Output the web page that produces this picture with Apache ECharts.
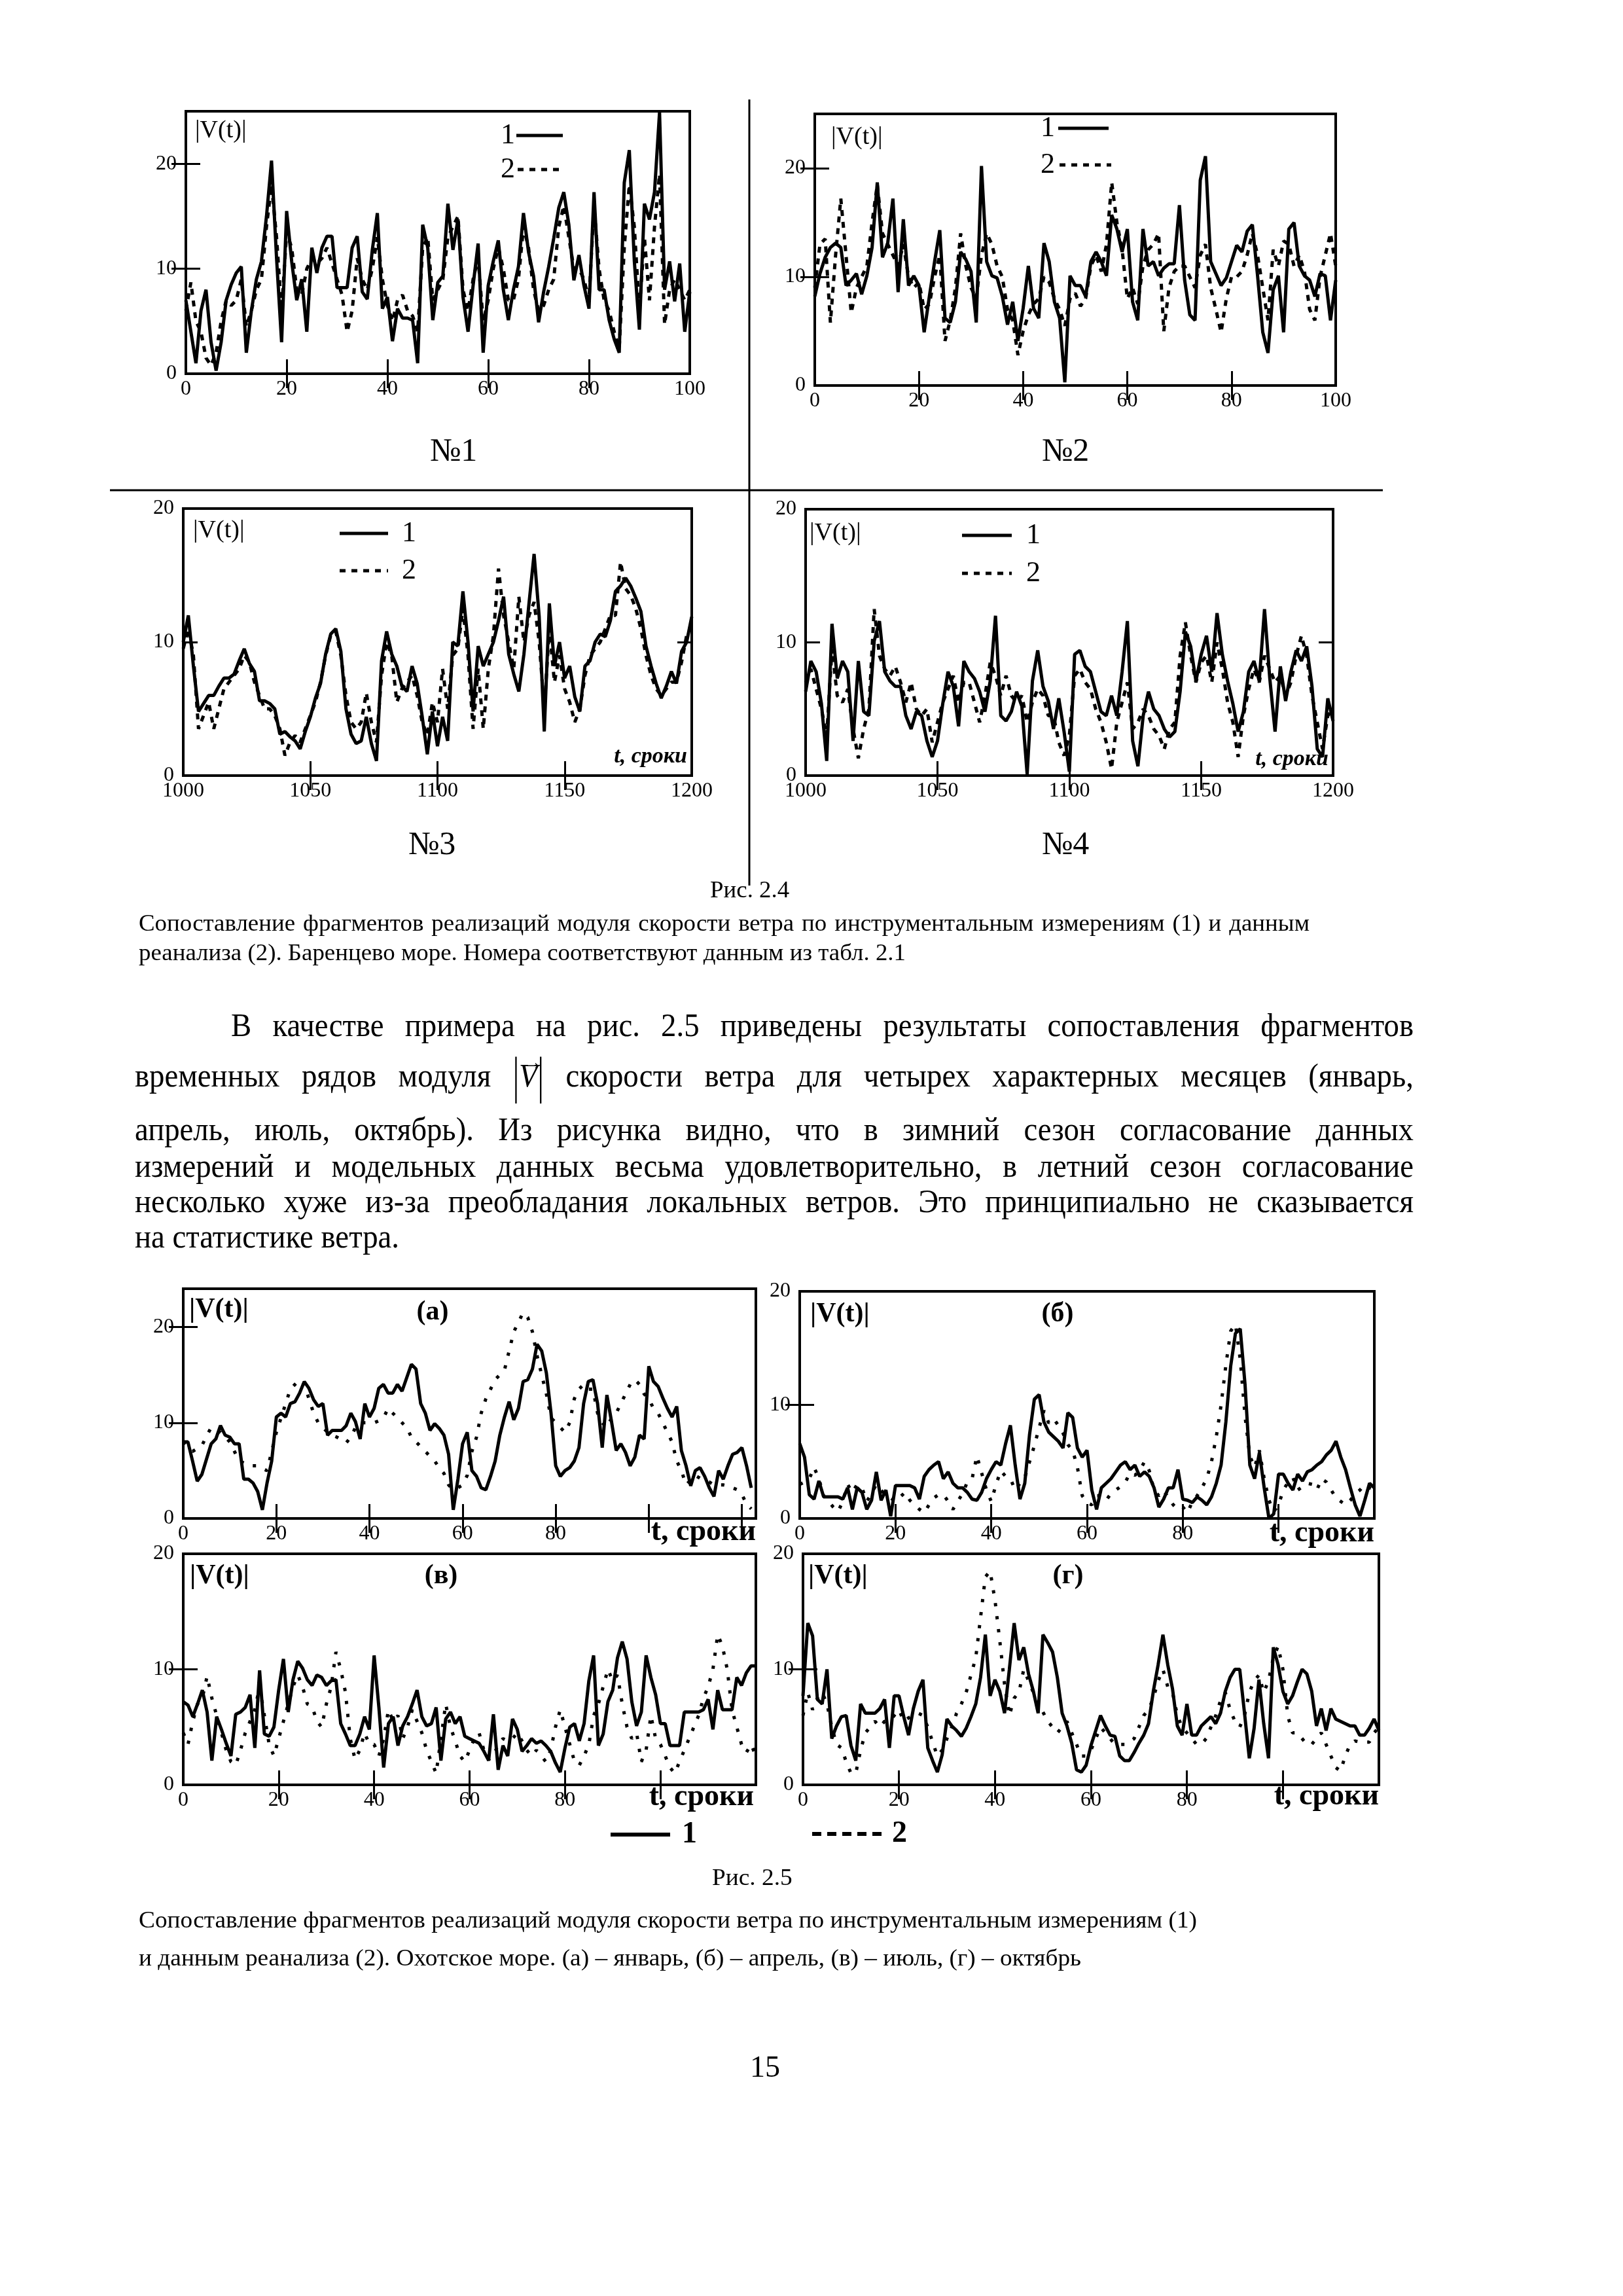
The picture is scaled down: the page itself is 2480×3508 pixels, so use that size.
<!DOCTYPE html>
<html><head><meta charset="utf-8">
<script src="https://cdn.jsdelivr.net/npm/echarts@6/dist/echarts.min.js"></script>
<style>
html,body{margin:0;padding:0;background:#fff;}
#page{position:relative;width:2480px;height:3508px;overflow:hidden;background:#fff;}
#chart{position:absolute;left:0;top:0;width:2480px;height:3508px;}
.t{position:absolute;font-family:"Liberation Serif","DejaVu Serif",serif;color:#000;}
</style></head>
<body><div id="page"><div id="chart"></div></div>
<script>
// ---------------- DATA ----------------
// Fig 2.4, №1 (t = 0..100, step 1)
const n1Solid = [7,4,1,6,8,3,0.3,3,7,8.5, 9.6,10.2,2,6,9,10.7,15,20.3,11,3, 15.5,10.7,7,9,4,12,9.6,12,13.1,13.1, 8.2,8.2,8.2,12,13.1,7.8,7.1,11.8,15.3,6.2, 7.3,3.1,6.2,5.3,5.3,5.1,1,14.2,12,5.1, 8.7,9.3,16.2,11.8,14.7,7.3,4,8.4,12.4,2, 8.4,10.7,12.7,8,5.1,8,10.2,15.3,11.6,9.3, 4.9,7.8,10.2,12.9,15.8,17.3,14.2,8.9,11.3,8.4, 6.2,17.3,8,8,5.1,3.3,2,18.2,21.3,10.7, 4.2,16.2,14.7,17.3,24.9,8,10.7,6.9,10.5,4, 7.8];
const n1Dash  = [6,8.7,5,4,1.5,0.8,2,5,7,6.5, 7,9,4.5,6,8,9,14,18,13,6, 13.5,12,8,7.5,10,11,10.5,11,12,10.5, 9,7.5,4,6,11,9,8,10,13,9, 6.5,5,7,7.5,6,5.5,4,12,13,7, 8,9,13,14,15,8,6,9,11,5, 7,10,12,10,7,7,9,14,12,8, 6,6.5,8,9,14,16,13,10,10,9, 7,16,10,7,6,4,2.4,12,18,14, 6,13,7,14,19,4.7,8,9,8,7, 8];
// №2 (t = 0..100, step 1)
const n2Solid = [8.2,10.3,11.8,12.7,13.1,12.7,9.2,9.7,10.3,8.4, 10.1,12.7,18.7,11.8,13.1,17.2,8.6,15.3,9.2,10.1, 9.2,4.9,8.2,11.4,14.3,6.2,5.8,7.7,12.3,11.6, 10.5,5.8,20.2,11.4,10.1,9.9,8.2,5.6,7.7,4.1, 7.1,11,7.1,6.2,13.1,11.4,7.7,6.2,0.3,10.1, 9.2,9.2,8.2,11.4,12.3,11.4,10.1,15.7,14.4,12.3, 14.4,7.7,6,14.4,11,11.4,10.1,10.8,11.2,11.2, 16.6,9.7,6.5,6,18.9,21.1,11.4,10.3,9.2,9.9, 11.4,12.9,12.3,14.2,14.8,10.1,4.9,3,8.8,10.1, 4.9,14.4,15,11,10.1,9.7,8.2,10.3,10.1,6, 9.7];
const n2Dash  = [9,13,13.5,5.8,12,17.2,12,6.7,9,10, 11,15,18.5,14,13,12,11,13,10,9, 9.5,7,7.5,10,12,4.1,6,9,14,11, 9,8,12,14,13,11,10,7,6,2.8, 5,6.5,7.5,8,10,9.5,8,7,5.5,8, 8.5,7.3,8,11,12,10.5,13,18.7,15,12.5, 8,9,7.5,11,12.5,13,14,5,9,10.5, 11,11,10,9,12,13,9,7,4.9,8, 10,10,10.5,12,14,12,9,6,12.5,11, 13.3,13,11,12,10.5,7,6,10,12,14, 11];
// №3 (t = 1000..1200, step 2)
const n3Solid = [10,12,8.2,4.8,5.4,6,6,6.7,7.3,7.3, 7.6,8.6,9.5,8.4,7.8,5.6,5.6,5.4,5,3.1, 3.3,2.9,2.6,2,3.3,4.4,5.8,6.9,9.1,10.6, 11,9.3,5,3.1,2.4,2.6,4.4,2.4,1.1,8.6, 10.8,9.1,8.2,6.7,6.3,8.2,6.9,4.4,1.6,4.8, 2.2,4.4,2.6,10,9.7,13.8,10,4.8,9.7,8.2, 9.1,10,11.6,13.4,9.1,7.6,6.3,9.1,12.9,16.6, 11.9,3.3,12.9,8.2,10,7.3,8.2,5.9,4.8,8.2, 8.6,10,10.6,10.4,11.6,13.8,14.2,14.8,14.2,13.3, 12.3,9.7,8.2,6.9,5.8,6.7,7.8,6.9,9.3,10, 11.9];
const n3Dash  = [9.5,11,9,3.5,4.5,5.5,3.5,5,6.5,7, 7.5,8,9,8.5,7,6,5,5,4.5,3.5, 1.5,2.5,3,2.5,3.5,4.5,5.5,7,9,10.5, 10.8,9,6,4,3.5,4,6.2,4,2.5,7.5, 10,9,5.5,6.5,7,7.5,6,4,3,5.5, 4,8,5,9,9.5,12.5,9,3.5,8,3.5, 8,10.5,15.5,12,10,8,13.4,10,12,13, 10,5,11,7,9,6.5,5.5,4,5,7.5, 9,9.5,10,11,12,12,16,14,13.5,12.5, 11,9,7.5,6.5,6,6.5,7,7,8.5,10.5, 11];
// №4 (t = 1000..1200, step 2)
const n4Solid = [6.3,8.6,7.8,5.4,1.1,11.4,7.3,8.6,7.8,2.6, 8.6,4.8,4.5,10.1,11.6,7.8,7.1,6.7,6.7,4.5, 3.5,4.8,4.5,2.6,1.4,2.6,5.4,7.8,6.7,3.7, 8.6,7.8,7.3,6.3,4.8,7.1,12,4.5,4.1,4.8, 6.3,5.2,0.1,7.1,9.4,6.7,5.6,3.5,5.8,3.3, 0.3,9.1,9.4,8.2,7.8,6.3,4.8,4.5,6,4.5, 7.8,11.6,2.6,0.7,4.5,6.3,5,4.5,3.5,2.9, 3.3,6.3,10.8,9.7,7.1,9.1,10.5,7.8,12.2,9.1, 7.1,5.4,3.3,4.8,7.8,8.6,7.1,12.5,7.3,3.3, 8.2,5.6,7.8,9.4,8.6,9.7,6.7,2,1.4,5.8, 4.1];
const n4Dash  = [7,8,6.5,5,3,9.5,6,5.5,6.5,3.5, 1.3,3.5,5,12.5,9,8,7.5,8.2,7,5.5, 7,5,4.5,5,2.5,4,5.5,6.5,7.5,5.5, 7,7,5.5,4,6,8.5,7.5,6,7.5,6, 5.5,6,4,5.5,6.5,6,4.5,4.5,2.5,1.5, 3,7.5,8,7,6.5,5,4,2.5,0.5,4, 5.5,7,3.5,4,5,4.5,3.5,3,2,3.5, 4,9,11.5,9,7,8.5,9,7,10,8, 5.5,4,1.4,4.5,6.5,8,7,9,8,7, 7.5,6,7,9,10.5,9,6,4,2,4.5, 5];
// Fig 2.5 (а) январь (t = 0..122)
const aSolid = [8,8,6,3.9,4.6,6.2,7.8,8.3,9.7,8.7, 8.5,7.8,7.8,4.1,4.1,3.7,2.8,0.9,3.7,6, 10.6,11,10.6,12,12.2,13.1,14.3,13.6,12.4,11.7, 12,8.7,9.2,9.2,9.2,9.7,11,10.1,8.3,12, 10.6,11.5,13.6,14,13.1,13.1,14,13.3,14.7,16.1, 15.6,12,11,9.2,9.9,9.4,8.7,6.7,0.9,4.1, 7.8,9,5,4.4,3.2,3,4.4,6,8.7,10.6, 12.2,10.3,11.5,14.3,14.5,15.6,18.2,17.5,15.2,11, 5.5,4.4,5,5.3,6,7.4,12,14.3,14.5,12, 7.4,12.9,10.1,7.1,7.8,6.9,5.5,6.4,8.7,8.3, 15.9,14.3,13.8,12.6,11.5,10.6,11.7,7.1,5.5,3.4, 5,5.3,4.4,3.2,2.3,5,4.1,5.5,6.7,6.9, 7.4,5.5,3.2];
const aDash  = [8,7.5,7,7.3,7.6,8.6,9.5,9.2,9,8.5, 8,7,6,5.8,5.5,5.5,5.5,5.2,5,7, 9,10.5,12,13.5,14,14.5,14,12.5,11,10, 9.5,9,8.7,8.5,8.2,7.9,8.5,9.5,10,10, 10,10,10.2,10.5,11.5,11,10.5,10,9.5,8.5, 8,7.5,7,6.5,6,5.3,4.7,3.5,3,3.2, 3.5,4.5,7,8.5,11,12.5,13.5,14.5,15,15.5, 17.5,19.5,20.5,21.5,21,19.5,17,15,13,10.5, 10,9.5,9,10,12.5,13.5,14,13.5,13.5,11, 10,9.5,10.5,11,12,13,14,14.5,14,13, 12.5,11.5,11,10,9,8,6,5,3.5,4, 4.5,4.2,4,3.8,3.5,3.5,3.5,3.4,3.2,3, 2.5,1.5,1];
// (б) апрель (t = 0..120)
const bSolid = [6.6,5.4,2.1,1.7,3.3,1.9,1.9,1.9,1.9,1.7, 2.7,0.8,2.7,2.3,0.8,1.6,4.1,1.6,2.5,0.2, 2.9,2.9,2.9,2.9,2.7,1.7,3.7,4.3,4.7,5, 3.5,4.1,3.1,2.7,2.7,2.3,1.7,1.6,2.3,3.5, 4.3,5,4.7,6.6,8.2,4.7,1.7,3.1,7.4,10.5, 10.9,8.5,7.6,7.2,6.8,6.2,9.3,8.9,6.2,5.4, 6,2.5,0.8,2.7,3.1,3.5,4.1,4.7,5,4.3, 4.7,3.7,4.1,3.7,2.7,1,1.7,2.7,2.7,4.3, 1.7,1.6,1.4,1.9,1.6,1.2,1.9,3.1,4.7,8.5, 13.4,16.3,16.7,11.8,4.7,3.5,5.8,2.7,0,0.4, 3.9,3.9,3.1,2.5,3.9,3.3,4.1,4.3,4.7,5, 5.6,6,6.8,5.4,4.3,2.7,1.2,0.2,1.6,3.1, 2.7];
const bDash  = [3,3.2,3.5,4.5,3.5,2,1.5,1,0.6,1.5, 3,2.3,3,2.7,1.5,2.2,3,2.5,2,1.8, 1.5,1.9,2.3,1.6,1.2,0.8,0.5,1.2,1.8,2.1, 2.1,1.5,0.8,1.5,2.2,3.2,3.5,5.5,4,2.5, 1.5,3,4.2,3.7,3.5,2.5,3.1,3.6,5,6.4, 8,9.5,8.4,8.8,8.2,7.5,6.5,6,4.5,2, 1.4,1.2,2,2,1.6,2.2,2.5,2.8,3.2,4, 3.8,4.2,5,4.2,2.5,2,2.5,1.8,1.2,0.8, 1,0.5,1.5,2,2.7,3.5,5,7.2,10,13.5, 16.5,17.1,14,9,5.5,4.5,6,3.5,1.6,0.6, 1.2,2.5,3.2,3.6,2.5,2.8,3.1,3,2.5,3.5, 3.2,2.5,1.8,1.5,1.2,1.6,2.2,2.5,3,2.7, 2.5];
// (в) июль (t = 0..120)
const cSolid = [7.2,6.9,5.9,7,8.2,6.3,2.1,5.9,4.8,3.6, 2.5,6.1,6.3,6.7,7.8,3.2,9.9,4.4,4.2,5, 8.2,10.9,6.3,9.1,10.7,10.1,9.1,8.6,9.5,9.3, 8.6,9,9.1,5.3,4.4,3.4,3.4,4.4,5.9,4.8, 11.2,6.7,1.5,5.3,5.9,3.4,5.1,5.9,7,8.2, 5.9,5.1,5.3,6.7,2.1,5.7,6.3,5.3,5.9,4.2, 4,3.8,3.6,2.9,2.1,6.1,1.3,3.4,2.5,5.7, 4.8,2.9,3.4,4,3.6,3.8,3.4,2.9,1.9,1.1, 3.2,5,5.3,3.8,5.3,9,11.2,3.4,4.4,7.2, 8.2,11,12.4,10.9,7.2,5.1,6.3,11.2,9.3,7.8, 5.3,5.3,3.4,3.4,3.4,6.3,6.3,6.3,6.3,6.5, 7.4,4.8,8.2,6.5,6.5,6.5,9.3,8.6,9.7,10.3, 10.3];
const cDash  = [4.5,3.5,5.5,7,7.5,9.4,7.5,6,4.5,3, 2,1.7,3,4.5,5.5,6.5,8.5,6,3.5,2.5, 4,5.5,7,8.5,9.5,8.5,7,6.8,5.5,5, 7,8.5,11.5,10,8,4,2.2,3,4.5,3.5, 3.5,2.5,4,6.5,5.5,6,4,5,6.5,5.5, 4.5,3,2,1,4,7,5,3.8,2.5,2, 3,4,4.5,3,2.2,2.5,3.5,4,3.8,4, 4.5,3.8,3,2.5,3,2.5,2,3,5,6.5, 5,3.5,2,1.7,2.5,3.5,6,7,8.5,10, 9,9.5,7,5,4,4.5,2,3,6,4, 3.5,2.5,1.5,1,2,3,4,5,6,7.5, 8.5,10,13,12,10,6.5,5,3.5,2.8,3.5, 2.5];
// (г) октябрь (t = 0..120)
const dSolid = [7.7,14,12.9,7.4,7,10,4,5.1,5.9,6, 3.4,2.1,7,6.2,6.2,6.2,6.6,7.4,3.2,7.7, 7.7,5.9,4.3,6.6,8.1,9.1,3.2,2.1,1.1,2.6, 5.7,5.1,4.7,4.2,4.9,5.9,7,9.3,13,7.7, 9.1,8.1,6.2,10,14,10.8,11.9,9.6,8.1,6.2, 13,12.3,11.5,9.3,6.2,5.1,3.6,1.3,1.1,1.7, 3.4,4.7,6,5.1,4.3,4.2,2.5,2.1,2.1,2.8, 3.6,4.3,5.3,8.1,10.4,13,10.4,8.3,5.1,4.3, 7,4.3,4.3,5.1,5.5,5.9,5.3,6.2,8.1,9.3, 10,10,6.2,2.3,4.9,9.1,5.3,2.3,11.9,10.4, 8.1,7,7.7,8.9,10,9.6,8.1,5.1,6.6,4.7, 6.6,5.7,5.5,5.3,5.1,5.1,4.3,4.3,4.9,5.7, 4.7];
const dDash  = [6,8,6.5,7.5,8,7,5,3.5,3.2,2, 1,1,3,4.5,5,5.5,5,5.5,5.5,6, 6.5,5.5,5.8,6,6.2,6,5,3.7,2.5,3, 4,5,6.2,7,8,9.5,11,14.5,18,18.5, 16,12.5,8.7,6,7.5,8,10,9,8,7, 6.3,5.5,5,4.5,5,5.5,4.5,3.5,2.5,2.5, 3,4,5,4.5,4,3.5,3.5,3.5,3.7,4, 5,6,6.5,7.5,9,10,8.5,8,6,5, 4.5,4,3.5,3.5,4,5,6,7.3,8,6.5, 5.5,5,6,8,9,9.5,8,9,11,12, 10,6,4.5,4.5,4,3.5,3.5,4,4.5,3.5, 2.5,1.5,1.2,2.5,3.5,3.8,3.7,3.7,3.7,4.5, 5];

// Tick labels / tick positions
const xLabels12 = [0,20,40,60,80,100];
const xTicks12  = [20,40,60,80];
const xLabels34 = [1000,1050,1100,1150,1200];
const xTicks34  = [1050,1100,1150];
const xLabels25 = [0,20,40,60,80];
const xTicks25a = [20,40,60,80,100,120];
const xTicks25  = [20,40,60,80,100];
const yLabels   = [0,10,20];
const yTicks12  = [10,20];
const yTicks20  = [10];

// Texts
const panelTitles = ['№1','№2','№3','№4'];
const panelLetters = ['(а)','(б)','(в)','(г)'];
const yName = '|V(t)|';
const xName = 't, сроки';
const fig24 = 'Рис. 2.4';
const cap24 = ['Сопоставление фрагментов реализаций модуля скорости ветра по инструментальным измерениям (1) и данным',
               'реанализа (2). Баренцево море. Номера соответствуют данным из табл. 2.1'];
const para = ['В качестве примера на рис. 2.5 приведены результаты сопоставления фрагментов',
  'временных рядов модуля @V@ скорости ветра для четырех характерных месяцев (январь,',
  'апрель, июль, октябрь). Из рисунка видно, что в зимний сезон согласование данных',
  'измерений и модельных данных весьма удовлетворительно, в летний сезон согласование',
  'несколько хуже из-за преобладания локальных ветров. Это принципиально не сказывается',
  'на статистике ветра.'];
const fig25 = 'Рис. 2.5';
const cap25 = ['Сопоставление фрагментов реализаций модуля скорости ветра по инструментальным измерениям (1)',
               'и данным реанализа (2). Охотское море. (а) – январь, (б) – апрель, (в) – июль, (г) – октябрь'];
const pageNo = '15';

// ---------------- LAYOUT ----------------
const FONT = '"Liberation Serif", "DejaVu Serif", serif';
const panels = [
 {s1:n1Solid, s2:n1Dash, t0:0,    dt:1, xmin:0,    xmax:100, ymax:25, left:284,  top:170,  w:770, h:401, xl:xLabels12, xt:xTicks12, yt:yTicks12, dash:[9,9]},
 {s1:n2Solid, s2:n2Dash, t0:0,    dt:1, xmin:0,    xmax:100, ymax:25, left:1245, top:174,  w:796, h:415, xl:xLabels12, xt:xTicks12, yt:yTicks12, dash:[9,9]},
 {s1:n3Solid, s2:n3Dash, t0:1000, dt:2, xmin:1000, xmax:1200, ymax:20, left:280, top:777,  w:777, h:408, xl:xLabels34, xt:xTicks34, yt:yTicks20, dash:[9,9]},
 {s1:n4Solid, s2:n4Dash, t0:1000, dt:2, xmin:1000, xmax:1200, ymax:20, left:1231, top:778, w:806, h:407, xl:xLabels34, xt:xTicks34, yt:yTicks20, dash:[9,9]},
 {s1:aSolid, s2:aDash, t0:0, dt:1, xmin:0, xmax:123, ymax:24, left:280,  top:1969, w:875, h:351, xl:xLabels25, xt:xTicks25a, yt:yTicks12, dash:[5,15]},
 {s1:bSolid, s2:bDash, t0:0, dt:1, xmin:0, xmax:120, ymax:20, left:1222, top:1973, w:878, h:347, xl:xLabels25, xt:xTicks25, yt:yTicks20, dash:[5,15]},
 {s1:cSolid, s2:cDash, t0:0, dt:1, xmin:0, xmax:120, ymax:20, left:280,  top:2374, w:875, h:353, xl:xLabels25, xt:xTicks25, yt:yTicks20, dash:[5,15]},
 {s1:dSolid, s2:dDash, t0:0, dt:1, xmin:0, xmax:120, ymax:20, left:1227, top:2374, w:880, h:353, xl:xLabels25, xt:xTicks25, yt:yTicks20, dash:[5,15]}
];

const grids=[], xAxes=[], yAxes=[], series=[];
const plain = v => String(v);
panels.forEach((p,i)=>{
  grids.push({left:p.left, top:p.top, width:p.w, height:p.h, show:true, borderColor:'#000', borderWidth:4, backgroundColor:'transparent'});
  const tick = (vals)=>({show:true, inside:true, length:22, customValues:vals, lineStyle:{color:'#000', width:3}});
  const lab = {fontFamily:FONT, fontSize:32, color:'#000', formatter:plain};
  xAxes.push({gridIndex:i, type:'value', min:p.xmin, max:p.xmax, position:'bottom', axisLine:{show:false}, splitLine:{show:false},
    axisTick:tick(p.xt), axisLabel:Object.assign({show:true, customValues:p.xl, margin:8}, lab)});
  xAxes.push({gridIndex:i, type:'value', min:p.xmin, max:p.xmax, position:'top', axisLine:{show:false}, splitLine:{show:false},
    axisTick:tick(p.xt), axisLabel:{show:false}});
  yAxes.push({gridIndex:i, type:'value', min:0, max:p.ymax, position:'left', axisLine:{show:false}, splitLine:{show:false},
    axisTick:tick(p.yt), axisLabel:Object.assign({show:true, customValues:yLabels, margin:14}, lab)});
  yAxes.push({gridIndex:i, type:'value', min:0, max:p.ymax, position:'right', axisLine:{show:false}, splitLine:{show:false},
    axisTick:tick(p.yt), axisLabel:{show:false}});
  const toPts = arr => arr.map((v,k)=>[p.t0 + k*p.dt, v]);
  series.push({type:'line', xAxisIndex:2*i, yAxisIndex:2*i, data:toPts(p.s2), symbol:'none', showSymbol:false,
    lineStyle:{color:'#000', width:5, type:p.dash}, silent:true, z:2});
  series.push({type:'line', xAxisIndex:2*i, yAxisIndex:2*i, data:toPts(p.s1), symbol:'none', showSymbol:false,
    lineStyle:{color:'#000', width:5, type:'solid'}, silent:true, z:3});
});

// graphic decorations
const G=[];
function txt(s,x,y,size,opt){ opt=opt||{}; G.push({type:'text', x:x, y:y, z:10, style:Object.assign({text:s, fontFamily:FONT, fontSize:size, fill:'#000', align:'left', verticalAlign:'middle'}, opt)}); }
function ln(x1,y1,x2,y2,w,dash){ G.push({type:'line', z:10, shape:{x1,y1,x2,y2}, style:{stroke:'#000', lineWidth:w, lineDash:dash||null}}); }
// dividers
ln(1145,152,1145,1353,3);
ln(168,749,2113,749,3);
// Fig 2.4 titles
txt(panelTitles[0],693,691,50,{align:'center'});
txt(panelTitles[1],1628,691,50,{align:'center'});
txt(panelTitles[2],660,1292,50,{align:'center'});
txt(panelTitles[3],1628,1292,50,{align:'center'});
// |V(t)| labels
txt(yName,298,200,38); txt(yName,1270,210,38); txt(yName,295,811,38); txt(yName,1237,815,38);
txt(yName,289,2001,42,{fontWeight:'bold'}); txt(yName,1238,2008,42,{fontWeight:'bold'});
txt(yName,290,2408,42,{fontWeight:'bold'}); txt(yName,1235,2408,42,{fontWeight:'bold'});
// letters
txt(panelLetters[0],661,2005,42,{align:'center',fontWeight:'bold'});
txt(panelLetters[1],1616,2008,42,{align:'center',fontWeight:'bold'});
txt(panelLetters[2],674,2408,42,{align:'center',fontWeight:'bold'});
txt(panelLetters[3],1632,2408,42,{align:'center',fontWeight:'bold'});
// t, сроки
txt(xName,1050,1156,34,{align:'right',fontStyle:'italic',fontWeight:'bold'});
txt(xName,2030,1160,34,{align:'right',fontStyle:'italic',fontWeight:'bold'});
txt(xName,1155,2341,46,{align:'right',fontWeight:'bold'});
txt(xName,2100,2343,46,{align:'right',fontWeight:'bold'});
txt(xName,1152,2746,46,{align:'right',fontWeight:'bold'});
txt(xName,2107,2745,46,{align:'right',fontWeight:'bold'});
// legends №1..№4
txt('1',765,207,44); ln(789,207,860,207,5);
txt('2',765,259,44); ln(791,259,863,259,5,[9,9]);
txt('1',1590,196,44); ln(1617,196,1694,196,5);
txt('2',1590,252,44); ln(1619,252,1698,252,5,[9,9]);
ln(519,815,593,815,5); txt('1',614,815,44);
ln(519,872,593,872,5,[9,9]); txt('2',614,872,44);
ln(1470,818,1546,818,5); txt('1',1568,818,44);
ln(1470,876,1546,876,5,[9,9]); txt('2',1568,876,44);
// bottom legend fig 2.5
ln(933,2803,1024,2803,6); txt('1',1042,2803,46,{fontWeight:'bold'});
ln(1241,2802,1347,2802,6,[14,9]); txt('2',1363,2802,46,{fontWeight:'bold'});

const chart = echarts.init(document.getElementById('chart'), null, {renderer:'canvas', width:2480, height:3508});
chart.setOption({animation:false, backgroundColor:'#fff', grid:grids, xAxis:xAxes, yAxis:yAxes, series:series, graphic:{elements:G}});

// ---------------- HTML page text ----------------
const page=document.getElementById('page');
function mk(html, fs, st){ const d=document.createElement('div'); d.className='t'; d.style.fontSize=fs+'px'; d.style.lineHeight=(fs*1.2)+'px'; d.innerHTML=html; Object.assign(d.style, st||{}); page.appendChild(d); return d; }
function natural(html, fs){ const d=mk(html, fs, {whiteSpace:'nowrap', visibility:'hidden', left:'0px', top:'0px'}); const w=d.getBoundingClientRect().width; d.remove(); return w; }
function esc(s){ return s.replace(/@V@/g,'<span style="display:inline-block;transform:scaleY(1.55)">|</span><span style="position:relative;font-style:italic">V<span style="position:absolute;left:0.12em;top:-0.62em;font-size:0.7em;font-style:normal">&#8594;</span></span><span style="display:inline-block;transform:scaleY(1.55)">|</span>'); }
function line(html, x, yc, fs, scale, W, justify){
  const nat = natural(html, fs);
  let sc = scale;
  if (justify && nat*sc > W) sc = W/nat*0.995;
  const st = {left:x+'px', top:(yc-0.65*fs)+'px', transform:'scaleX('+sc+')', transformOrigin:'0 0'};
  if (justify){ st.width=(W/sc)+'px'; st.textAlign='justify'; st.textAlignLast='justify'; st.whiteSpace='normal'; }
  else st.whiteSpace='nowrap';
  return mk(html, fs, st);
}
function centered(html, cx, yc, fs, scale){
  const nat = natural(html, fs);
  return mk(html, fs, {left:(cx-nat*scale/2)+'px', top:(yc-0.65*fs)+'px', transform:'scaleX('+scale+')', transformOrigin:'0 0', whiteSpace:'nowrap'});
}
function clamp(v){ return Math.max(0.7, Math.min(1.15, v)); }
// captions 2.4
const capFs = 35;
const sc24 = clamp(1172 / natural(cap24[1], capFs));
centered(fig24, 1146, 1362, capFs, sc24);
line(cap24[0], 212, 1413, capFs, sc24, 1789, true);
line(cap24[1], 212, 1458, capFs, sc24, 1172, false);
// paragraph
const pFs = 50;
const scP = clamp(404 / natural(para[5], pFs));
const pR = 2160;
line(esc(para[0]), 353, 1568, pFs, scP, pR-353, true);
line(esc(para[1]), 206, 1645, pFs, scP, pR-206, true);
line(esc(para[2]), 206, 1727, pFs, scP, pR-206, true);
line(esc(para[3]), 206, 1783, pFs, scP, pR-206, true);
line(esc(para[4]), 206, 1837, pFs, scP, pR-206, true);
line(esc(para[5]), 206, 1891, pFs, scP, 404, false);
// captions 2.5
const sc25 = clamp(1617 / natural(cap25[0], capFs));
centered(fig25, 1149, 2871, capFs, sc25);
line(cap25[0], 212, 2936, capFs, sc25, 1617, false);
line(cap25[1], 212, 2994, capFs, sc25, 1458, false);
centered(pageNo, 1169, 3160, 46, 1);
</script>
</body></html>
